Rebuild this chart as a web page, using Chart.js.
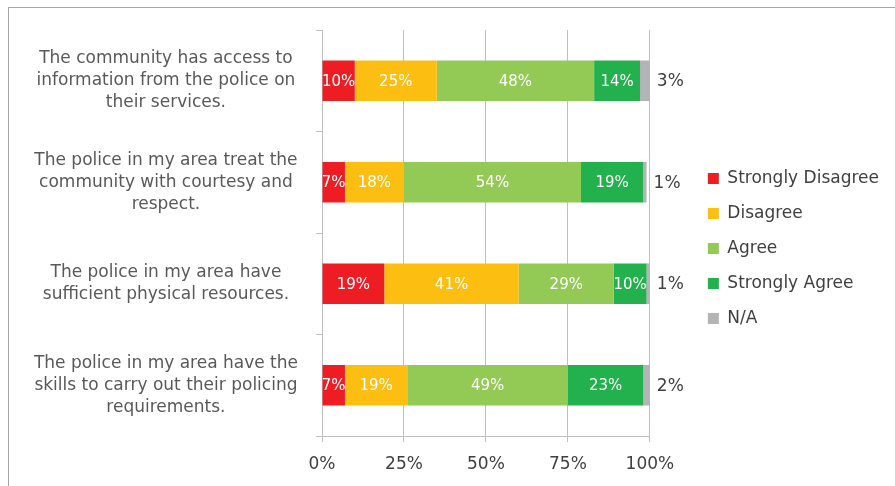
<!DOCTYPE html>
<html>
<head>
<meta charset="utf-8">
<style>
  html, body { margin: 0; padding: 0; background: #fff; overflow: hidden; }
  #frame { position: absolute; left: 8px; top: 7px; width: 1000px; height: 600px; border-top: 1px solid #a6a6a6; border-left: 1px solid #a6a6a6; }
  #chart { position: absolute; left: 0; top: 0; }
</style>
<script src="https://cdn.jsdelivr.net/npm/chart.js@4.4.1/dist/chart.umd.min.js"></script>
</head>
<body>
<div id="frame"></div>
<canvas id="chart" width="895" height="486"></canvas>
<script>
// Survey statements (one bar each) and answer shares in percent
const statements = [
  ['The community has access to', 'information from the police on', 'their services.'],
  ['The police in my area treat the', 'community with courtesy and', 'respect.'],
  ['The police in my area have', 'sufficient physical resources.'],
  ['The police in my area have the', 'skills to carry out their policing', 'requirements.']
];
const answerNames = ['Strongly Disagree', 'Disagree', 'Agree', 'Strongly Agree', 'N/A'];
const stronglyDisagree = [10, 7, 19, 7];
const disagree = [25, 18, 41, 19];
const agree = [48, 54, 29, 49];
const stronglyAgree = [14, 19, 10, 23];
const notApplicable = [3, 1, 1, 2];
const percentTicks = [0, 25, 50, 75, 100];

const answerColors = ['#ee1d23', '#fdbe12', '#93c955', '#22b14c', '#b2b4b6'];
const font = '"DejaVu Sans", sans-serif';

const datasets = [stronglyDisagree, disagree, agree, stronglyAgree, notApplicable].map((values, i) => ({
  label: answerNames[i],
  data: values,
  backgroundColor: answerColors[i],
  borderWidth: 0,
  barPercentage: 0.4,
  categoryPercentage: 1
}));

// Percent labels: white inside the coloured segments, grey after the N/A end
const segmentLabels = {
  id: 'segmentLabels',
  afterDatasetsDraw(chart) {
    const ctx = chart.ctx;
    const last = chart.data.datasets.length - 1;
    ctx.save();
    ctx.textBaseline = 'middle';
    chart.data.datasets.forEach((ds, i) => {
      chart.getDatasetMeta(i).data.forEach((bar, j) => {
        const text = ds.data[j] + '%';
        if (i === last) {
          ctx.fillStyle = '#404040';
          ctx.font = '17px ' + font;
          ctx.textAlign = 'left';
          ctx.fillText(text, bar.x + 7, bar.y + 1);
        } else {
          ctx.fillStyle = '#ffffff';
          ctx.font = '15px ' + font;
          ctx.textAlign = 'center';
          ctx.fillText(text, (bar.x + bar.base) / 2, bar.y + 1);
        }
      });
    });
    ctx.restore();
  }
};

// Empty layout box that keeps some room between the plot and the legend,
// and let the legend be wider than the default share for side boxes
const legendGap = {
  id: 'legendGap',
  beforeInit(chart) {
    Chart.layouts.addBox(chart, {
      position: 'right',
      weight: 500,
      fullSize: false,
      options: {},
      isHorizontal() { return false; },
      update(maxWidth, maxHeight) { this.width = 40; this.height = maxHeight; },
      draw() {}
    });
    const legend = chart.legend;
    const update = legend.update;
    legend.update = function (maxWidth, maxHeight, margins) {
      update.call(this, Math.max(maxWidth, 240), maxHeight, margins);
    };
  },
  afterLayout(chart) {
    // nudge the legend column up a little
    chart.legend.top -= 9;
    chart.legend.bottom -= 9;
  }
};

new Chart(document.getElementById('chart'), {
  type: 'bar',
  data: { labels: statements, datasets: datasets },
  plugins: [segmentLabels, legendGap],
  options: {
    indexAxis: 'y',
    responsive: false,
    animation: false,
    devicePixelRatio: 1,
    layout: { padding: { left: 10, top: 30, right: 6, bottom: 1 } },
    scales: {
      x: {
        stacked: true,
        min: 0,
        max: 100,
        afterBuildTicks(scale) { scale.ticks = percentTicks.map(v => ({ value: v })); },
        afterFit(scale) { scale.height = 49; },
        ticks: {
          color: '#404040',
          font: { family: font, size: 17 },
          padding: 12,
          callback: v => v + '%'
        },
        grid: { color: '#bfbfbf', tickLength: 6 },
        border: { color: '#bfbfbf' }
      },
      y: {
        stacked: true,
        afterFit(scale) {
          scale.width = 312;
          scale.paddingTop = 0;
          scale.paddingBottom = 0;
        },
        ticks: {
          color: '#595959',
          font: { family: font, size: 17, lineHeight: 1.3 },
          crossAlign: 'center',
          padding: 18
        },
        grid: { offset: true, drawOnChartArea: false, color: '#bfbfbf', tickLength: 6 },
        border: { color: '#bfbfbf' }
      }
    },
    plugins: {
      tooltip: { enabled: false },
      legend: {
        position: 'right',
        labels: {
          color: '#404040',
          font: { family: font, size: 17 },
          boxWidth: 11,
          boxHeight: 11,
          padding: 18
        }
      }
    }
  }
});
</script>
</body>
</html>
